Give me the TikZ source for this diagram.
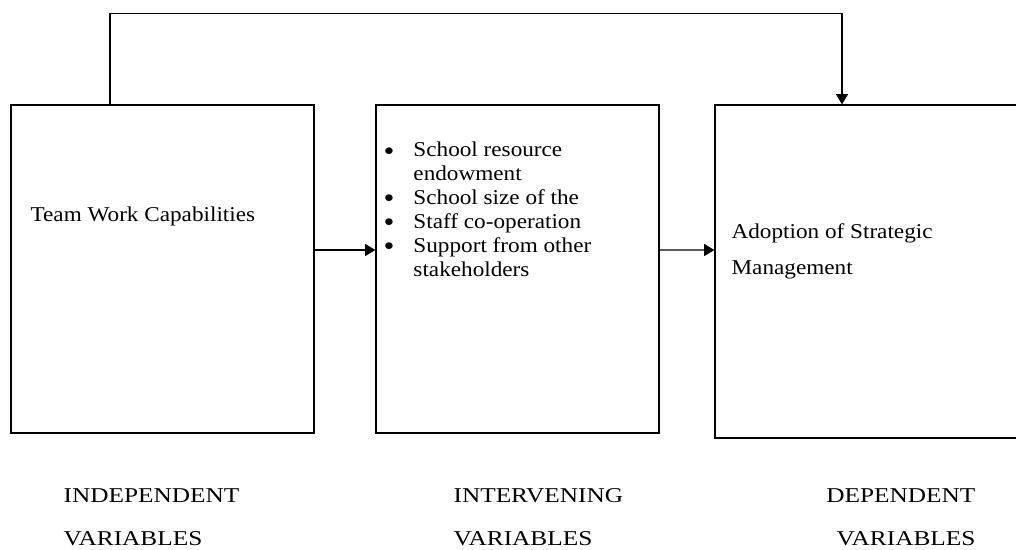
\documentclass[tikz,border=0pt]{standalone}
\usepackage{fontspec}
\setmainfont{Liberation Serif}[FakeStretch=1.1]
\newfontfamily\labelfont{Liberation Serif}[FakeStretch=1.2]
\usetikzlibrary{arrows.meta}

\newcommand{\varbullet}{\makebox[17pt][l]{\raisebox{-1.8pt}[0pt][0pt]{\fontsize{16}{13.6}\selectfont\textbullet}}}

\begin{document}
\begin{tikzpicture}[->,>={Triangle[width=6.8pt,length=5.8pt]},line width=0.7pt,
		every node/.style={font=\fontsize{12}{13.6}\selectfont}]
		\tikzstyle{VarBox}=[draw,line width=0.7pt,inner sep=0pt]
		\tikzstyle{VarText}=[inner sep=0pt,anchor=base west]
		\tikzstyle{VarLabel}=[inner sep=0pt,anchor=base west,font=\labelfont\fontsize{12}{24.4}\selectfont]

		\useasboundingbox (0,0) rectangle (20.32,11);

		\node at (3.25,5.62) [VarBox,minimum width=6.06cm,minimum height=6.56cm] (teamBox) {};
		\node at (10.35,5.62) [VarBox,minimum width=5.66cm,minimum height=6.56cm] (resBox) {};
		\node at (17.65,5.57) [VarBox,minimum width=6.7cm,minimum height=6.66cm] (adoptBox) {};

		\node at (0.6,6.56) [VarText] (teamText) {Team Work Capabilities};
		\node at (7.66,7.86) [VarText] (resText) {\begin{tabular}[t]{@{}l@{}l@{}}
				\varbullet & School resource\\
				& endowment\\
				\varbullet & School size of the\\
				\varbullet & Staff co-operation\\
				\varbullet & Support from other\\
				& stakeholders
			\end{tabular}};
		\node at (14.62,6.22) [VarText] (adoptText) {\begin{tabular}[t]{@{}l@{}}Adoption of Strategic\\[6.8pt]Management\end{tabular}};

		\node at (1.26,0.94) [VarLabel] (indepLabel) {\begin{tabular}[t]{@{}l@{}}INDEPENDENT\\VARIABLES\end{tabular}};
		\node at (9.06,0.94) [VarLabel] (intervLabel) {\begin{tabular}[t]{@{}l@{}}INTERVENING\\VARIABLES\end{tabular}};
		\node at (19.52,0.94) [VarLabel,anchor=base east] (depLabel) {\begin{tabular}[t]{@{}r@{}}DEPENDENT\\VARIABLES\end{tabular}};

		\path ([yshift=3.8mm]teamBox.east) edge ([yshift=3.8mm]resBox.west)
		([yshift=3.8mm]resBox.east) edge ([yshift=4.3mm]adoptBox.west);
		\draw ([xshift=-1.05cm]teamBox.north) -- ++(0,1.82) -| ([xshift=-0.81cm]adoptBox.north);
	\end{tikzpicture}
\end{document}
